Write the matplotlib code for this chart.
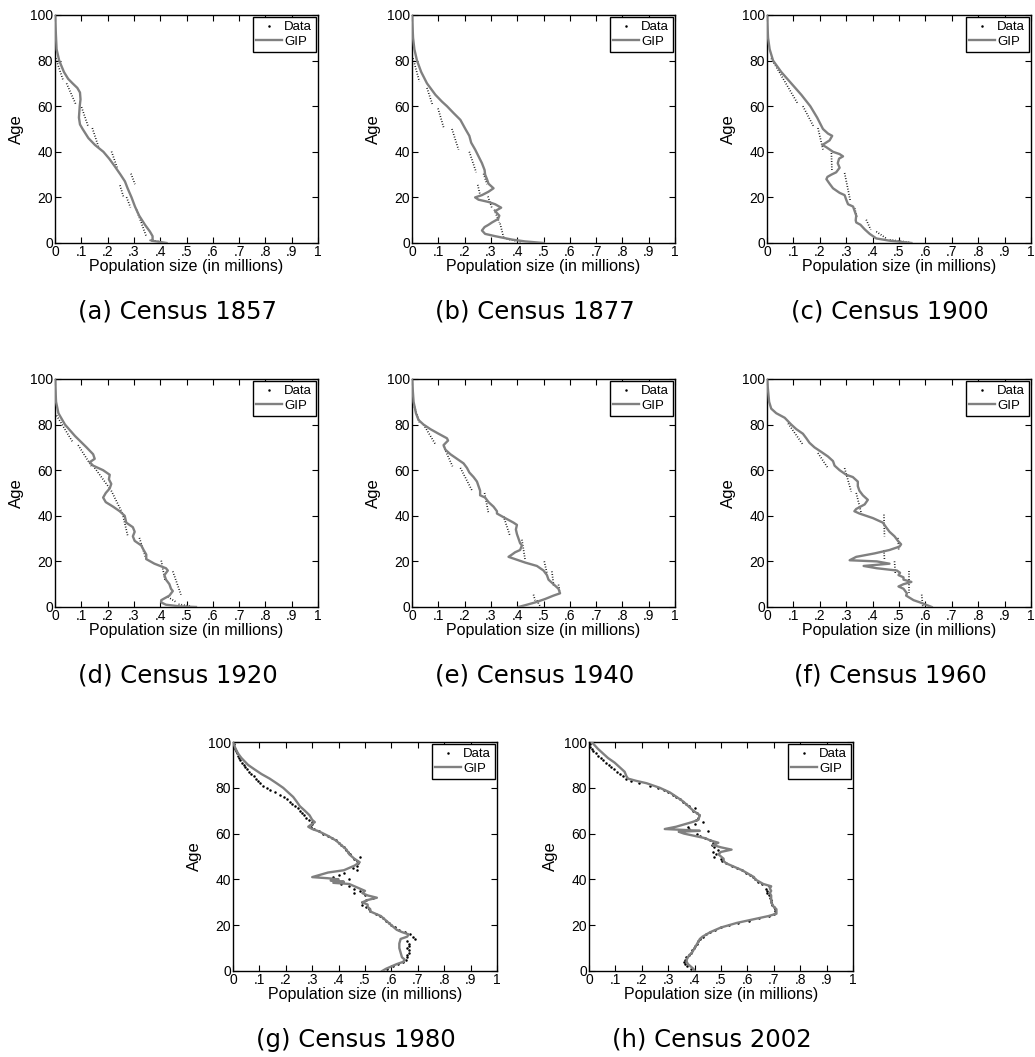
import matplotlib
matplotlib.use('Agg')
import matplotlib.pyplot as plt
from matplotlib.lines import Line2D

# ---- data -----------------------------------------------------------------
# grouped census data: (age_top, x_top, age_bottom, x_bottom), millions
data_1857 = [(81, .003, 71, .032), (70, .044, 60.6, .080), (59.6, .101, 50.8, .127),
             (50.4, .142, 41.6, .167), (40.1, .215, 32.8, .237), (30.4, .289, 25.8, .304),
             (25.3, .247, 20.4, .260), (20.1, .272, 15.6, .287), (14.6, .310, 2.6, .348),
             (1.2, .360, 0.4, .410)]
data_1877 = [(81, .004, 70.8, .028), (68, .057, 60.6, .078), (59, .099, 50.8, .120),
             (50, .152, 40.9, .177), (40, .218, 31, .244), (30.4, .272, 25.8, .285),
             (25.5, .250, 21, .259), (20.4, .289, 15.3, .304), (14.6, .313, 9, .332),
             (8.5, .335, 2.6, .348), (1.8, .360, 0.4, .418)]
data_1900 = [(81, .016, 61, .117), (60, .136, 51, .177), (50.4, .193, 41, .212),
             (39.4, .244, 31.4, .246), (30.7, .294, 18.2, .316), (15.3, .332, 11, .341),
             (10.2, .376, 5.8, .393), (5, .414, 2, .452), (1.4, .465, 0.3, .540)]
data_1920 = [(84, .006, 72, .069), (71, .088, 61.7, .139), (61, .151, 52, .208),
             (51, .214, 40.5, .259), (39.8, .259, 31, .277), (30.3, .321, 20.8, .347),
             (20.3, .404, 11.3, .419), (15.6, .448, 5.4, .479), (4.4, .429, 2.2, .460),
             (1.2, .470, 0.3, .520)]
data_1940 = [(89, .006, 81, .028), (80, .044, 71, .091), (70.5, .120, 61.7, .154),
             (61, .184, 50.7, .230), (50, .276, 41, .291), (39.8, .348, 31, .373),
             (29.5, .418, 20.8, .430), (20, .503, 14.9, .513), (15.6, .532, 9, .539),
             (9.8, .557, 5.4, .563), (5.4, .462, 2.9, .468), (2.9, .475, 0.3, .487)]
data_1960 = [(80.5, .080, 71.2, .136), (67.5, .193, 60.9, .231), (60.9, .294, 50.6, .319),
             (50, .338, 41.2, .357), (40.5, .443, 31, .445), (30.3, .496, 25, .499),
             (25, .443, 20.8, .445), (20, .483, 14.9, .486), (15.6, .537, 6, .537),
             (5.4, .586, 0.3, .590)]

# single-year data, ages 100 down to 0
ages_single = list(range(100, -1, -1))
data_1980 = [.000, .002, .004, .007, .010, .014, .018, .023, .028, .034,
             .040, .047, .054, .062, .070, .078, .086, .094, .104, .115,
             .128, .142, .160, .178, .195, .205, .215, .225, .235, .245,
             .255, .262, .270, .278, .288, .298, .300, .295, .305, .325,
             .340, .360, .375, .390, .400, .410, .420, .428, .436, .445,
             .480, .458, .470, .475, .470, .455, .470, .420, .400, .380,
             .440, .400, .410, .440, .460, .480, .460, .500, .530, .505,
             .490, .490, .505, .515, .520, .540, .555, .570, .580, .590,
             .600, .615, .630, .650, .670, .680, .690, .660, .665, .665,
             .660, .665, .665, .660, .660, .655, .645, .625, .605, .585,
             .565]
data_2002 = [.000, .002, .005, .010, .017, .025, .034, .044, .054, .064,
             .074, .085, .096, .107, .118, .128, .140, .160, .190, .230,
             .262, .285, .300, .318, .330, .345, .355, .366, .378, .400,
             .393, .410, .415, .412, .405, .430, .400, .375, .380, .450,
             .410, .420, .440, .460, .470, .465, .475, .490, .470, .480,
             .475, .500, .505, .520, .540, .560, .580, .595, .610, .620,
             .630, .640, .655, .680, .670, .675, .675, .680, .685, .690,
             .690, .695, .700, .705, .705, .700, .680, .645, .605, .565,
             .530, .500, .478, .460, .445, .432, .422, .414, .408, .402,
             .398, .392, .385, .378, .368, .362, .360, .362, .372, .385,
             .398]

# GIP fitted curves
gip_1857_age = [100, 90, 85, 80, 75, 72, 70, 68, 66, 63, 60, 55, 52, 50, 46, 43, 40, 37, 34,
                30, 27, 24, 20, 16, 12, 8, 5, 3, 1.5, 1, 0]
gip_1857_x = [0, .004, .006, .016, .034, .050, .067, .085, .095, .097, .094, .091, .095, .105,
              .127, .152, .184, .206, .225, .249, .266, .276, .291, .304, .320, .342, .361,
              .371, .371, .367, .424]
gip_1877_age = [100, 90, 85, 80, 75, 70, 65, 62, 60, 57, 54, 50, 47, 44, 41, 38, 35, 32, 30, 28,
                26, 24, 22.5, 21, 20, 19, 18, 17, 15.5, 14, 12, 10.5, 9, 8, 7, 5.5, 4, 3, 1.5,
                0.7, 0]
gip_1877_x = [0, .004, .009, .019, .035, .057, .089, .114, .133, .158, .184, .203, .218, .225,
              .240, .253, .266, .276, .278, .285, .291, .310, .291, .266, .240, .253, .291,
              .316, .339, .316, .332, .327, .304, .291, .276, .266, .278, .316, .380, .430, .500]
gip_1900_age = [100, 90, 85, 80, 75, 70, 65, 60, 55, 50, 48, 47, 45, 43, 42, 40, 39, 38, 37, 35,
                33, 31, 30, 29, 28, 26, 24, 22, 21, 19, 17, 16, 14, 12, 10, 9, 8, 6, 4, 2, 1, 0]
gip_1900_x = [0, .004, .010, .023, .054, .092, .130, .164, .190, .212, .231, .247, .237, .210,
              .225, .250, .275, .288, .273, .268, .275, .262, .244, .229, .225, .237, .250,
              .275, .294, .300, .307, .326, .332, .338, .336, .338, .354, .370, .389, .414,
              .465, .547]
gip_1920_age = [100, 90, 85, 80, 75, 70, 67, 65, 63.5, 62, 60, 58, 56, 54, 52, 50, 48, 46, 44,
                42, 40, 37, 35, 33, 31, 29, 27, 25, 23, 21, 19, 17, 16, 14, 12, 10, 8, 7, 5, 3,
                2, 1, 0.3, 0]
gip_1920_x = [0, .004, .013, .038, .076, .120, .145, .151, .132, .145, .183, .208, .205, .214,
              .208, .193, .183, .193, .221, .246, .265, .271, .296, .303, .296, .303, .328,
              .337, .347, .347, .378, .422, .429, .416, .422, .435, .441, .448, .435, .404,
              .404, .422, .473, .536]
gip_1940_age = [100, 95, 90, 85, 82, 80, 78, 76, 74, 73, 71, 69, 67, 65, 63, 61, 59, 57, 55, 53,
                51, 49, 48, 46, 44, 42, 41, 39, 37, 36, 34, 32, 30, 28, 27, 25, 24, 23, 22, 21,
                19.5, 18, 16, 14, 12, 10, 8, 6, 5, 3.5, 2, 1, 0]
gip_1940_x = [0, .003, .006, .015, .025, .044, .070, .101, .133, .137, .120, .127, .146, .171,
              .196, .209, .218, .234, .247, .253, .259, .259, .278, .291, .310, .323, .323,
              .354, .386, .399, .395, .399, .405, .411, .418, .411, .392, .380, .367, .392,
              .430, .475, .500, .513, .519, .538, .557, .563, .538, .506, .468, .437, .405]
gip_1960_age = [100, 95, 90, 87, 85, 83, 80, 78, 76, 74, 72, 70, 68, 66, 64, 62, 60, 58, 57, 55,
                53, 51, 49, 47, 45, 43, 42, 41, 39, 37, 35, 33, 31, 29, 27.5, 26.5, 25, 23.5,
                22, 20.5, 20, 19, 18.5, 18, 17, 16, 15, 14, 13, 12, 11, 10, 9, 8, 6, 5, 3, 2, 0]
gip_1960_x = [0, .004, .008, .016, .035, .067, .092, .111, .136, .149, .161, .180, .206, .231,
              .250, .256, .275, .300, .325, .344, .344, .350, .363, .382, .370, .338, .331,
              .350, .401, .439, .451, .464, .483, .496, .508, .502, .464, .407, .338, .313,
              .416, .464, .416, .366, .416, .492, .504, .498, .517, .517, .547, .517, .498,
              .517, .530, .527, .555, .580, .624]
gip_1980_age = [100, 97, 95, 93, 90, 88, 86, 84, 82, 80, 78, 76, 74, 72, 70, 68, 66, 65, 64, 63,
                62, 61, 59, 57, 55, 53, 51, 49, 47.5, 46, 44, 43, 41, 40.5, 40, 39.5, 39, 38.5,
                38, 37, 36, 35, 34, 33, 32, 31, 30, 29, 28, 27, 26, 24, 22, 20, 18, 17, 16, 15,
                14, 12, 10, 8, 6, 5, 4, 3, 2, 1, 0]
gip_1980_x = [0, .010, .019, .032, .057, .082, .108, .139, .165, .190, .209, .228, .241, .253,
              .272, .290, .300, .310, .297, .285, .300, .325, .360, .390, .410, .430, .440,
              .460, .480, .460, .420, .360, .300, .360, .400, .370, .420, .380, .440, .460,
              .480, .500, .490, .510, .545, .510, .490, .510, .510, .520, .520, .560, .580,
              .600, .620, .640, .665, .660, .635, .630, .630, .635, .640, .650, .645, .620,
              .600, .580, .565]
gip_2002_age = [100, 97, 95, 93, 91, 89, 87, 85, 84, 83, 82, 80, 78, 76, 74, 72, 70, 68, 66, 65,
                64, 63, 62, 61.6, 61.2, 60.8, 60, 59, 58, 57, 56, 55, 54, 53, 52, 51, 50, 49, 48,
                47, 46, 45, 44, 42, 41, 40, 39, 38, 37, 36, 35, 34, 33, 32, 30, 29, 28, 27, 26,
                25, 24, 23, 22, 21, 20, 19, 18, 17, 16, 15, 14, 12, 10, 8, 7, 6, 5, 4, 3, 2, 1, 0]
gip_2002_x = [.010, .034, .053, .072, .097, .116, .135, .142, .148, .180, .218, .268, .306,
              .332, .357, .376, .395, .420, .414, .390, .360, .330, .287, .360, .420, .340,
              .360, .400, .440, .460, .490, .470, .500, .540, .500, .490, .500, .510, .510,
              .520, .540, .560, .580, .610, .625, .630, .645, .660, .690, .685, .690, .685,
              .690, .690, .690, .695, .700, .710, .710, .710, .680, .640, .600, .560, .530,
              .500, .480, .460, .445, .430, .420, .410, .400, .390, .380, .375, .370, .370,
              .375, .385, .395, .400]

captions = ['(a) Census 1857', '(b) Census 1877', '(c) Census 1900', '(d) Census 1920',
            '(e) Census 1940', '(f) Census 1960', '(g) Census 1980', '(h) Census 2002']

# ---- layout (pixels of a 1035 x 1057 canvas) -------------------------------
W, H = 1035, 1057
# left, top, right, bottom of each axes box; caption centre x, y
boxes = [(55, 15, 318, 243), (412, 15, 675, 243), (767, 15, 1031, 243),
         (55, 379, 318, 607), (412, 379, 675, 607), (767, 379, 1031, 607),
         (233, 742, 497, 971), (589, 742, 853, 971)]
cap_pos = [(178, 312), (535, 312), (890, 312), (178, 676), (535, 676), (890, 676),
           (356, 1040), (712, 1040)]

GIP_COLOR = '#808080'
TICK_FONT = 'Liberation Sans'


def draw_panel(ax, gip_age, gip_x, segments=None, single=None):
    if segments is not None:
        for a_top, x_top, a_bot, x_bot in segments:
            ax.plot([x_top, x_bot], [a_top, a_bot], color='k', lw=1.2,
                    linestyle=(0, (0.5, 1.1)), solid_capstyle='butt', zorder=2)
    if single is not None:
        ax.plot(single, ages_single, linestyle='none', marker='.', ms=1.6,
                color='k', zorder=2)
    ax.plot(gip_x, gip_age, color=GIP_COLOR, lw=1.7, zorder=3)

    ax.set_xlim(0, 1)
    ax.set_ylim(0, 100)
    ax.set_xticks([i / 10 for i in range(11)])
    ax.set_xticklabels(['0'] + ['.%d' % i for i in range(1, 10)] + ['1'])
    ax.set_yticks(range(0, 101, 20))
    ax.tick_params(direction='in', top=True, right=True, length=4, width=0.8,
                   labelsize=10, pad=1.5)
    for lab in ax.get_xticklabels() + ax.get_yticklabels():
        lab.set_family(TICK_FONT)
    for sp in ax.spines.values():
        sp.set_linewidth(1.0)
    ax.set_xlabel('Population size (in millions)', fontsize=11.5, family=TICK_FONT, labelpad=0)
    ax.set_ylabel('Age', fontsize=12, family=TICK_FONT, labelpad=4)

    handles = [Line2D([], [], linestyle='none', marker='.', ms=1.6, color='k', label='Data'),
               Line2D([], [], color=GIP_COLOR, lw=1.7, label='GIP')]
    leg = ax.legend(handles=handles, loc='upper right', frameon=True,
                    fancybox=False, edgecolor='k', framealpha=1, borderaxespad=0.15,
                    borderpad=0.3, labelspacing=0.2, handlelength=1.9, handletextpad=0.2,
                    prop={'family': TICK_FONT, 'size': 9.5})
    leg.get_frame().set_linewidth(1.0)


fig = plt.figure(figsize=(W / 100, H / 100), dpi=100)

panels = [
    (gip_1857_age, gip_1857_x, data_1857, None),
    (gip_1877_age, gip_1877_x, data_1877, None),
    (gip_1900_age, gip_1900_x, data_1900, None),
    (gip_1920_age, gip_1920_x, data_1920, None),
    (gip_1940_age, gip_1940_x, data_1940, None),
    (gip_1960_age, gip_1960_x, data_1960, None),
    (gip_1980_age, gip_1980_x, None, data_1980),
    (gip_2002_age, gip_2002_x, None, data_2002),
]

for (l, t, r, b), (cx, cy), cap, (g_age, g_x, segs, single) in zip(boxes, cap_pos, captions, panels):
    ax = fig.add_axes([l / W, 1 - b / H, (r - l) / W, (b - t) / H])
    draw_panel(ax, g_age, g_x, segs, single)
    fig.text(cx / W, 1 - cy / H, cap, ha='center', va='center', fontsize=17.5,
             family='DejaVu Sans')

fig.savefig('out.png', dpi=100)
plt.close(fig)
